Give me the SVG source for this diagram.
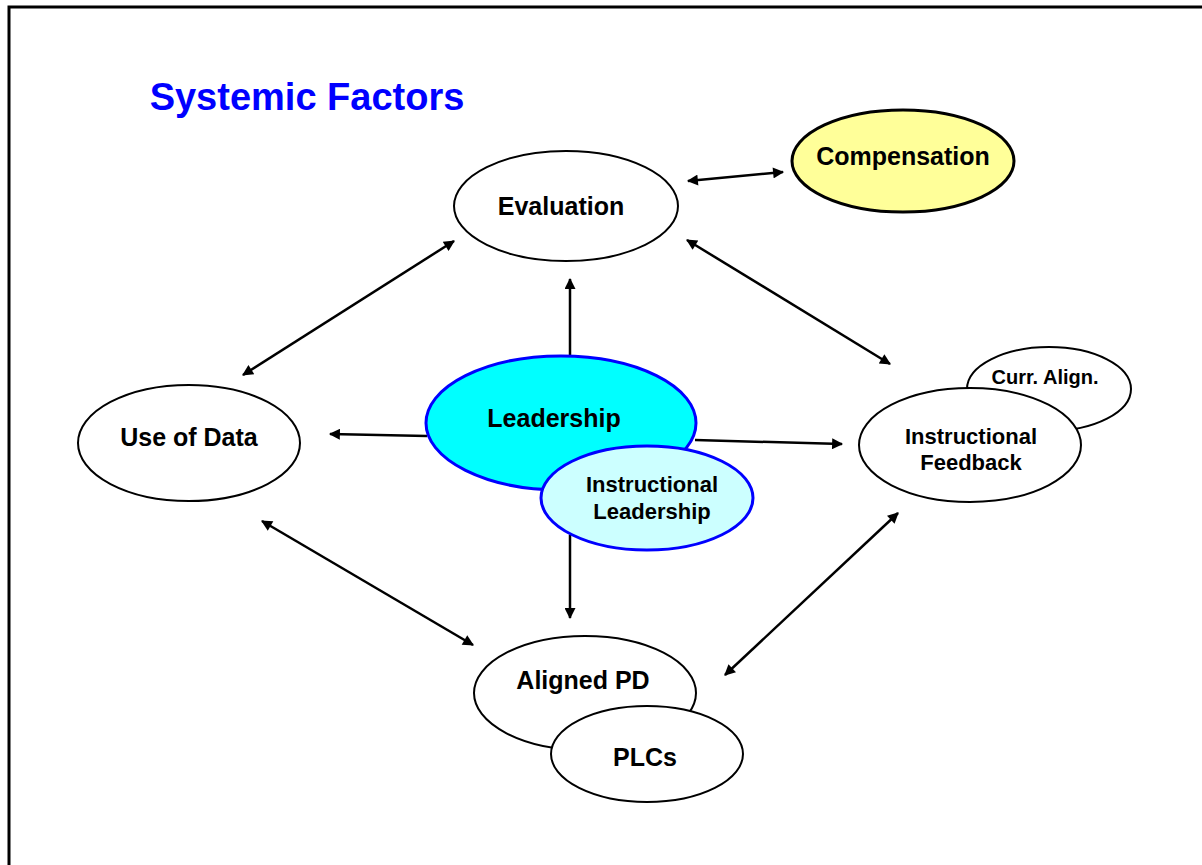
<svg xmlns="http://www.w3.org/2000/svg" width="1202" height="865" viewBox="0 0 1202 865">
  <defs>
    <marker id="head" viewBox="0 0 10 10" refX="9" refY="5" markerWidth="5" markerHeight="4.4" orient="auto-start-reverse" markerUnits="strokeWidth">
      <path d="M0,0 L10,5 L0,10 z" fill="#000"/>
    </marker>
    <style>
      .lbl { font-family: "Liberation Sans", Arial, sans-serif; font-weight: bold; fill: #000; text-anchor: middle; }
      .big { font-size: 25px; }
      .mid { font-size: 22px; }
      .sm { font-size: 20px; }
      .plain { fill: #fff; stroke: #000; stroke-width: 2; }
      .edge { stroke: #000; stroke-width: 2.5; fill: none; }
      .both { marker-start: url(#head); marker-end: url(#head); }
      .one { marker-end: url(#head); }
    </style>
  </defs>

  <rect x="0" y="0" width="1202" height="865" fill="#fff"/>
  <!-- slide frame (runs off the right and bottom edges) -->
  <path d="M9,1000 V7 H1300" fill="none" stroke="#000" stroke-width="3"/>

  <text x="307" y="110" class="lbl" style="font-size:38px; fill:#0000ff">Systemic Factors</text>

  <g id="connectors">
    <line class="edge both" x1="688" y1="181" x2="783" y2="172"/>
    <line class="edge both" x1="454" y1="241" x2="243" y2="375"/>
    <line class="edge both" x1="687" y1="240" x2="890" y2="364"/>
    <line class="edge both" x1="262" y1="521" x2="473" y2="645"/>
    <line class="edge both" x1="725" y1="675" x2="898" y2="513"/>
    <line class="edge one" x1="570" y1="357" x2="570" y2="279"/>
    <line class="edge one" x1="427" y1="436" x2="330" y2="434"/>
    <line class="edge one" x1="695" y1="440" x2="842" y2="444"/>
    <line class="edge one" x1="570" y1="535" x2="570" y2="618"/>
  </g>

  <g id="evaluation">
    <ellipse class="plain" cx="566" cy="206" rx="112" ry="55"/>
    <text class="lbl big" x="561" y="215">Evaluation</text>
  </g>

  <g id="compensation">
    <ellipse cx="903" cy="161" rx="111" ry="51" fill="#ffff99" stroke="#000" stroke-width="3"/>
    <text class="lbl big" x="903" y="165">Compensation</text>
  </g>

  <g id="use-of-data">
    <ellipse class="plain" cx="189" cy="443" rx="111" ry="58"/>
    <text class="lbl big" x="189" y="446">Use of Data</text>
  </g>

  <g id="curr-align">
    <ellipse class="plain" cx="1049" cy="389" rx="82" ry="42"/>
    <text class="lbl sm" x="1045" y="384">Curr. Align.</text>
  </g>

  <g id="instructional-feedback">
    <ellipse class="plain" cx="970" cy="445" rx="111" ry="57"/>
    <text class="lbl mid" x="971" y="444">Instructional</text>
    <text class="lbl mid" x="971" y="470">Feedback</text>
  </g>

  <g id="leadership">
    <ellipse cx="561" cy="423" rx="135" ry="67" fill="#00ffff" stroke="#0000ff" stroke-width="3"/>
    <text class="lbl big" x="554" y="427">Leadership</text>
  </g>

  <g id="instructional-leadership">
    <ellipse cx="647" cy="498" rx="106" ry="52" fill="#ccffff" stroke="#0000ff" stroke-width="3"/>
    <text class="lbl mid" x="652" y="492">Instructional</text>
    <text class="lbl mid" x="652" y="519">Leadership</text>
  </g>

  <g id="aligned-pd">
    <ellipse class="plain" cx="585" cy="693" rx="111" ry="57"/>
    <text class="lbl big" x="583" y="689">Aligned PD</text>
  </g>

  <g id="plcs">
    <ellipse class="plain" cx="647" cy="754" rx="96" ry="48"/>
    <text class="lbl big" x="645" y="766">PLCs</text>
  </g>
</svg>
